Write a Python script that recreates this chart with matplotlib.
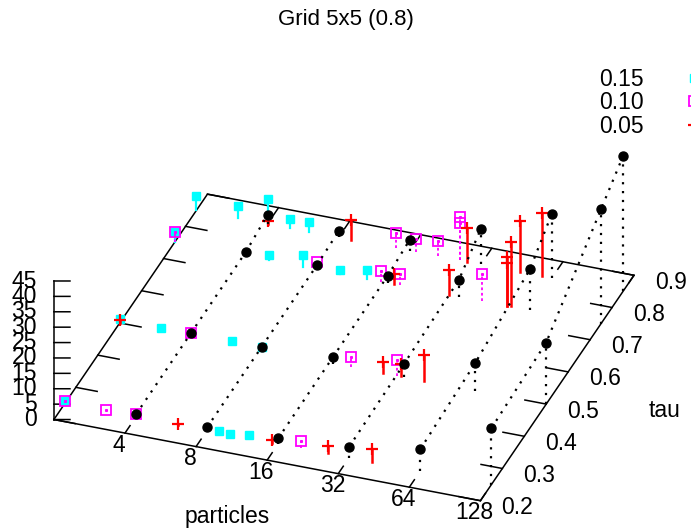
import numpy as np
import matplotlib.pyplot as plt
from matplotlib.lines import Line2D
from mpl_toolkits.mplot3d import proj3d

plt.rcParams['font.family'] = ['Liberation Sans', 'DejaVu Sans']

# threshold 0.15
part15 = [2, 2, 2, 2, 3, 3, 4, 5, 6, 6, 5, 7, 8, 10, 13, 9, 10, 12]
tau15 = [0.25, 0.5, 0.75, 0.85, 0.5, 0.85, 0.85, 0.85, 0.85, 0.5, 0.75, 0.75,
         0.5, 0.75, 0.75, 0.25, 0.25, 0.25]
val15 = [0.7, 1.2, 3.5, 4.5, 0.9, 3.9, 8.0, 2.9, 3.0, 1.1, 1.6, 3.7,
         1.0, 1.4, 3.0, 0.7, 0.4, 1.2]

# threshold 0.10
part10 = [2, 3, 4, 4, 2, 8, 14, 17, 21, 15, 18, 26, 26, 40, 20, 19, 30]
tau10 = [0.25, 0.25, 0.25, 0.5, 0.75, 0.75, 0.85, 0.85, 0.85, 0.75, 0.75,
         0.85, 0.85, 0.75, 0.25, 0.5, 0.5]
val10 = [0.7, 0.6, 0.8, 1.0, 3.5, 2.3, 4.9, 4.2, 4.9, 3.6, 3.8,
         14.0, 12.0, 8.6, 2.5, 3.2, 5.1]

# threshold 0.05
part05 = [2, 4, 6, 15, 26, 40, 26, 31, 39, 9, 17, 29, 28, 51, 51, 53, 47, 58]
tau05 = [0.5, 0.85, 0.25, 0.25, 0.25, 0.25, 0.5, 0.5, 0.5, 0.85, 0.75, 0.75,
         0.85, 0.75, 0.75, 0.75, 0.85, 0.85]
val05 = [1.0, 1.0, 0.4, 1.0, 2.3, 4.3, 3.5, 4.0, 8.4, 6.3, 3.2, 7.9,
         10.9, 15.7, 14.0, 21.0, 16.4, 20.4]

# full runs: one row per particle count, one column per tau
grid_part = [4, 8, 16, 32, 64, 128]
grid_tau = [0.25, 0.5, 0.75, 0.85]
grid_val = [[0.8, 1.0, 1.2, 2.9],
            [1.0, 1.1, 1.3, 2.0],
            [1.8, 2.1, 2.4, 3.6],
            [3.5, 4.3, 5.4, 11.5],
            [7.1, 8.9, 13.3, 20.9],
            [18.3, 20.0, 37.2, 43.9]]

xticks = [4, 8, 16, 32, 64, 128]
yticks = [0.2, 0.3, 0.4, 0.5, 0.6, 0.7, 0.8, 0.9]
zticks = [0, 5, 10, 15, 20, 25, 30, 35, 40, 45]

x0, x1 = 1, 7          # log2(particles) range
y0, y1 = 0.2, 0.9
z0, z1 = 0, 45
fs = 16.5

fig = plt.figure(figsize=(6.91, 5.29), dpi=100)
ax = fig.add_axes([-0.0126, -0.0393, 1, 1], projection='3d', proj_type='ortho')
ax.set_axis_off()
ax.computed_zorder = False
ax.view_init(elev=31.9, azim=-70.2)
ax.set_xlim(x0, x1)
ax.set_ylim(y0, y1)
ax.set_zlim(z0, z1)
ax.set_box_aspect((1, 1, 0.36), zoom=1.214)
M = ax.get_proj()


def line(xs, ys, zs, **kw):
    ax.plot(xs, ys, zs, clip_on=False, **kw)


def label(x, y, z, s, **kw):
    # place flat text at the projected position of a 3d point
    xp, yp, _ = proj3d.proj_transform(x, y, z, M)
    ax.text2D(xp, yp, s, transform=ax.transData, fontsize=fs, va='center', **kw)


# base frame and z axis
line([x0, x1, x1, x0, x0], [y0, y0, y1, y1, y0], [0] * 5, color='k', lw=1.1, zorder=1)
line([x0, x0], [y0, y0], [z0, z1], color='k', lw=1.1, zorder=1)

for p in xticks:
    lx = np.log2(p)
    line([lx, lx], [y0, y0 + 0.023], [0, 0], color='k', lw=1.1, zorder=1)
    line([lx, lx], [y1, y1 - 0.023], [0, 0], color='k', lw=1.1, zorder=1)
    label(lx + 0.03, y0 - 0.036, 0, str(p), ha='center')
for t in yticks:
    line([x1, x1 - 0.3], [t, t], [0, 0], color='k', lw=1.1, zorder=1)
    line([x0, x0 + 0.3], [t, t], [0, 0], color='k', lw=1.1, zorder=1)
    label(x1 + 0.52, t, 0, f'{t:.1f}', ha='center')
for z in zticks:
    line([x0, x0 + 0.2], [y0, y0 + 0.0084], [z, z], color='k', lw=1.1, zorder=1)
    label(x0 - 0.2125, y0 - 0.009, z, str(z), ha='right')

label(x0 + 2.99, y0 - 0.177, 0, 'particles', ha='center')
label(x1 + 1.52, 0.545, 0, 'tau', ha='center')


def impulses(p, t, v, **kw):
    for pi, ti, vi in zip(p, t, v):
        line([np.log2(pi)] * 2, [ti, ti], [0, vi], **kw)


# 0.15
impulses(part15, tau15, val15, color='#00ffff', lw=1.6, zorder=2)
line(np.log2(part15), tau15, val15, ls='none', marker='s', ms=5.8,
     color='#00ffff', zorder=2)

# 0.10
impulses(part10, tau10, val10, color='#ff00ff', lw=1.3, ls=(0, (1.5, 1.5)), zorder=3)
line(np.log2(part10), tau10, val10, ls='none', marker='s', ms=6.5, mfc='none',
     mec='#ff00ff', mew=1.3, zorder=3)
line(np.log2(part10), tau10, val10, ls='none', marker='s', ms=1.2,
     color='#ff00ff', zorder=3)

# 0.05
impulses(part05, tau05, val05, color='#ff0000', lw=1.8, zorder=4)
line(np.log2(part05), tau05, val05, ls='none', marker='+', ms=8.5, mew=1.6,
     color='#ff0000', zorder=4)

# full runs
for p, row in zip(grid_part, grid_val):
    lx = [np.log2(p)] * len(grid_tau)
    line(lx, grid_tau, row, color='k', lw=1.6, ls=(0, (1, 3)), zorder=5)
    impulses([p] * len(grid_tau), grid_tau, row, color='k', lw=1.6, ls=(0, (1, 3)), zorder=5)
    line(lx, grid_tau, row, ls='none', marker='o', ms=6.5, color='k', zorder=5)

fig.text(0.5, 1 - 20 / 529, 'Grid 5x5 (0.8)', fontsize=16, ha='center', va='center')

handles = [Line2D([], [], ls='none', marker='s', ms=5.8, color='#00ffff'),
           Line2D([], [], ls='none', marker='s', ms=6.5, mfc='none', mec='#ff00ff', mew=1.3),
           Line2D([], [], ls='none', marker='+', ms=8.5, mew=1.6, color='#ff0000')]
fig.legend(handles, ['0.15', '0.10', '0.05'], loc='upper left',
           bbox_to_anchor=(599 / 691, 1 - 68 / 529), frameon=False, fontsize=fs,
           markerfirst=False, borderpad=0, borderaxespad=0, handletextpad=1.28,
           handlelength=1.8, labelspacing=0.02)

fig.savefig('out.png', dpi=100)
